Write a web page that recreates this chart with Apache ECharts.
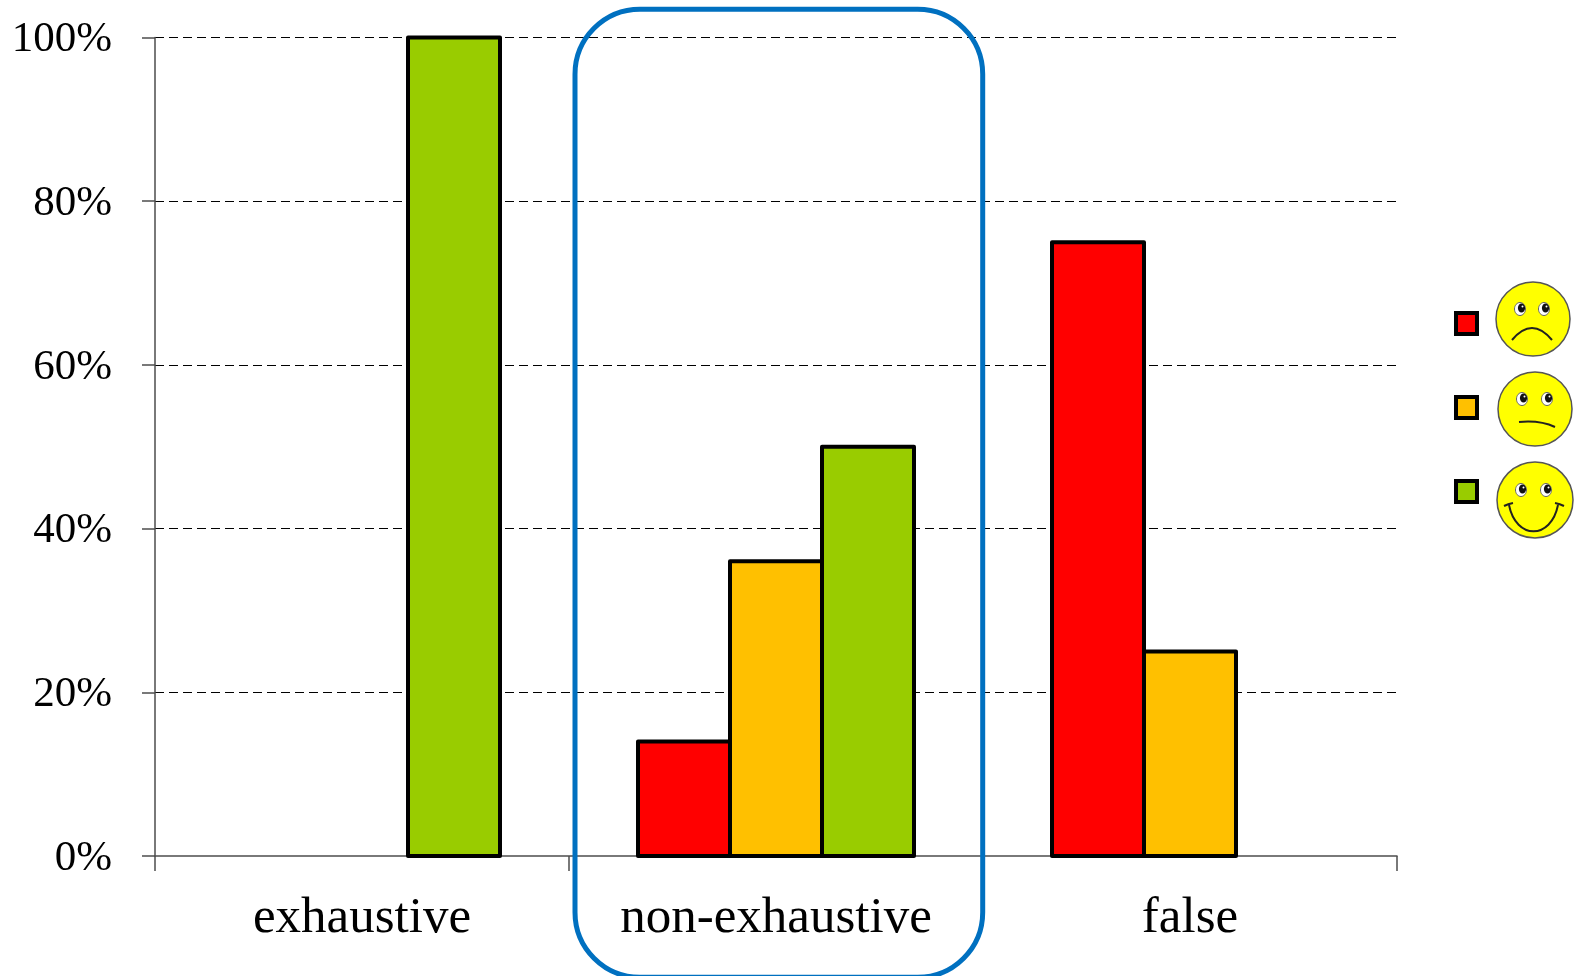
<!DOCTYPE html>
<html><head><meta charset="utf-8">
<style>html,body{margin:0;padding:0;background:#fff}#c{width:1577px;height:976px}</style>
<script src="https://cdn.jsdelivr.net/npm/echarts@6/dist/echarts.min.js"></script>
</head><body><div id="c"></div>
<script>
const categories = ['exhaustive', 'non-exhaustive', 'false'];
const negative = [null, 14, 75];
const neutral = [null, 36, 25];
const positive = [100, 50, null];
const seriesNames = ['negative', 'neutral', 'positive'];
const colors = ['#FF0000', '#FFC000', '#99CC00'];

const chart = echarts.init(document.getElementById('c'), null, {renderer: 'canvas'});
const FONT = '"Liberation Serif", "Times New Roman", serif';
const AX = '#4d4d4d';
const BAR_SHARE = 2 / 9; // each bar's share of the category band

function bar(name, values, color, slot) {
  return {
    name, type: 'custom', z: 3, animation: false, silent: true,
    coordinateSystem: 'cartesian2d',
    itemStyle: {color, borderColor: '#000', borderWidth: 4},
    encode: {x: 0, y: 1},
    data: values.map((v, i) => [i, v]).filter(d => d[1] !== null),
    renderItem(params, api) {
      const base = api.coord([api.value(0), 0]);
      const top = api.coord([api.value(0), api.value(1)]);
      const w = api.size([1, 0])[0] * BAR_SHARE;
      return {
        type: 'rect',
        shape: {x: base[0] + (slot - 1.5) * w, y: top[1], width: w, height: base[1] - top[1]},
        style: {fill: color, stroke: '#000', lineWidth: 4, lineJoin: 'round'}
      };
    }
  };
}
function eye(cx, cy) {
  return [
    {type: 'ellipse', shape: {cx, cy, rx: 5.5, ry: 6.5}, style: {fill: '#fff', stroke: '#666', lineWidth: 1}},
    {type: 'ellipse', shape: {cx: cx + 1.5, cy: cy - 1, rx: 3.6, ry: 4.6}, style: {fill: '#111'}},
    {type: 'circle', shape: {cx: cx + 2.5, cy: cy - 2.5, r: 1}, style: {fill: '#fff'}}
  ];
}
function line(s) { return {type: 'bezierCurve', shape: s, style: {fill: 'none', stroke: '#222', lineWidth: 2}}; }
function face(cx, cy, r, ex1, ex2, ey, mouths) {
  return [
    {type: 'circle', shape: {cx, cy, r}, style: {fill: '#FFFF00', stroke: '#555', lineWidth: 1.5}},
    ...eye(ex1, ey), ...eye(ex2, ey),
    ...mouths.map(line)
  ];
}

chart.setOption({
  animation: false,
  backgroundColor: '#fff',
  grid: {left: 155, right: 180, top: 37.5, bottom: 120, containLabel: false},
  xAxis: {
    type: 'category', data: categories,
    axisLine: {lineStyle: {color: AX, width: 1.5}},
    axisTick: {show: true, length: 15, lineStyle: {color: AX, width: 1.5}},
    axisLabel: {color: '#000', fontFamily: FONT, fontSize: 51, margin: 37}
  },
  yAxis: {
    type: 'value', min: 0, max: 100, interval: 20,
    axisLine: {show: true, lineStyle: {color: AX, width: 1.5}},
    axisTick: {show: true, length: 13, lineStyle: {color: AX, width: 1.5}},
    axisLabel: {color: '#000', fontFamily: FONT, fontSize: 43, margin: 43, verticalAlign: 'top', lineHeight: 5, formatter: '{value}%'},
    splitLine: {show: true, showMinLine: false, lineStyle: {color: '#000', width: 1, type: [9, 5]}}
  },
  legend: {
    show: true, orient: 'vertical', left: 1454, top: 311,
    itemWidth: 21, itemHeight: 21, itemGap: 59,
    data: seriesNames.map(name => ({name, icon: 'rect'})),
    formatter: () => '', selectedMode: false,
    textStyle: {fontSize: 1, padding: 0}, padding: 0,
    itemStyle: {borderColor: '#000', borderWidth: 4}
  },
  series: [
    bar(seriesNames[0], negative, colors[0], 0),
    bar(seriesNames[1], neutral, colors[1], 1),
    bar(seriesNames[2], positive, colors[2], 2)
  ],
  graphic: {elements: [
    {type: 'rect', silent: true, z: 50,
     shape: {x: 575, y: 9.3, width: 407.7, height: 968, r: 65},
     style: {fill: 'none', stroke: '#0070C0', lineWidth: 5}},
    ...face(1533, 319, 37, 1520, 1544, 309,
      [{x1: 1512, y1: 340, cpx1: 1532, cpy1: 316, x2: 1552, y2: 340}]),
    ...face(1535, 409, 37, 1522, 1547, 399,
      [{x1: 1519, y1: 422, cpx1: 1540, cpy1: 420, x2: 1555, y2: 427}]),
    ...face(1535, 500, 38, 1521, 1546, 490,
      [{x1: 1509, y1: 505, cpx1: 1516, cpy1: 540, cpx2: 1551, cpy2: 540, x2: 1558, y2: 505},
       {x1: 1504, y1: 506, cpx1: 1508, cpy1: 504, x2: 1513, y2: 503},
       {x1: 1555, y1: 503, cpx1: 1560, cpy1: 504, x2: 1564, y2: 506}])
  ].map(e => Object.assign({z: 40}, e))}
});
</script></body></html>
